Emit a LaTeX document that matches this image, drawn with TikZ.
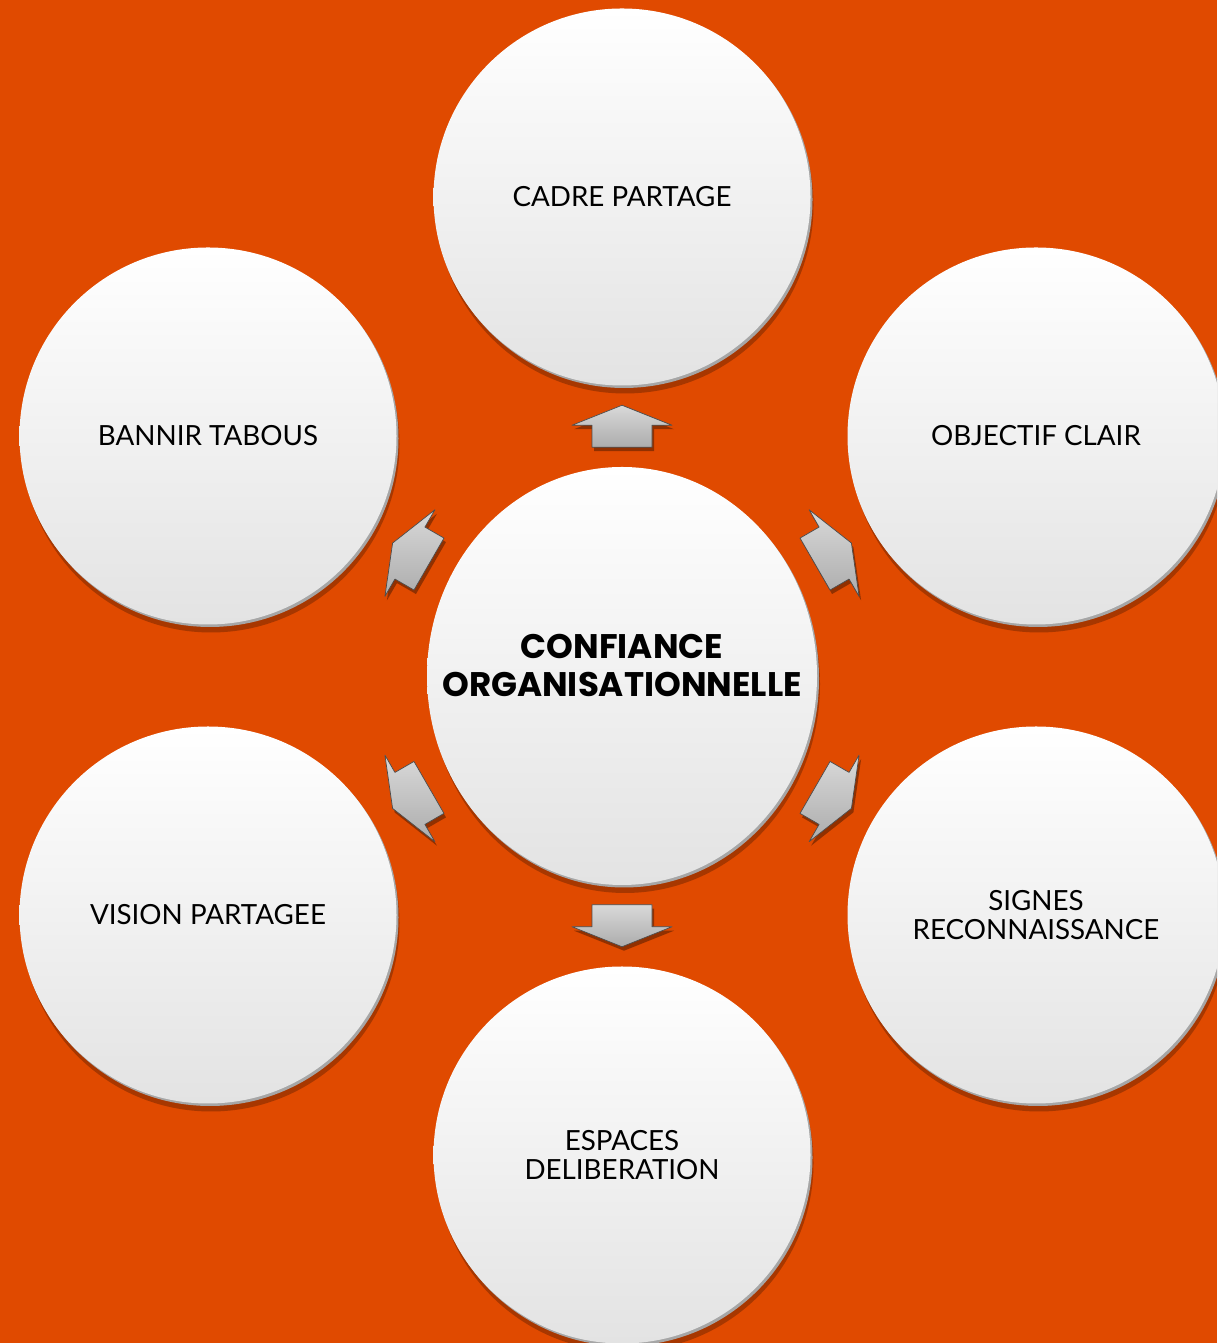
\documentclass[tikz,border=0pt]{standalone}
\usepackage{fontspec}
\setmainfont{Lato}
\newfontfamily\hubfont{Poppins}
\usetikzlibrary{shapes.geometric,shadows,calc}
\definecolor{bgorange}{RGB}{224,74,0}

\tikzset{
  bubble/.style={circle,minimum size=3.77cm,inner sep=0pt,align=center,
    top color=white,bottom color=gray!22,
    drop shadow={shadow xshift=0.03cm,shadow yshift=-0.08cm,opacity=0.25,fill=black},
    drop shadow={shadow xshift=0.02cm,shadow yshift=-0.025cm,opacity=1,fill=gray!70},
    font=\fontsize{7.9}{8.5}\selectfont},
  hub/.style={bubble,ellipse,minimum width=3.9cm,minimum height=4.18cm,
    font=\hubfont\bfseries\fontsize{9.7}{10.8}\selectfont},
  blockarrow/.style={top color=gray!30,bottom color=gray!65,draw=gray!60!black,
    line width=0.2pt,line join=round,
    drop shadow={shadow xshift=0.02cm,shadow yshift=-0.04cm,opacity=0.35,fill=black}}
}

\begin{document}
\begin{tikzpicture}
  \useasboundingbox (0,0) rectangle (12.17,13.43);
  \clip (0,0) rectangle (12.17,13.43);
  \fill[bgorange] (0,0) rectangle (12.17,13.43);

  \node[bubble] (cadre)    at (6.22,11.46) {CADRE PARTAGE};
  \node[bubble] (objectif) at (10.36,9.07) {OBJECTIF CLAIR};
  \node[bubble] (signes)   at (10.36,4.28) {SIGNES\\RECONNAISSANCE};
  \node[bubble] (espaces)  at (6.22,1.88)  {ESPACES\\DELIBERATION};
  \node[bubble] (vision)   at (2.08,4.28)  {VISION PARTAGEE};
  \node[bubble] (bannir)   at (2.08,9.07)  {BANNIR TABOUS};

  \node[hub] (conf) at (6.22,6.67)
    {\makebox[0pt]{CONFIANCE}\\\makebox[0pt]{ORGANISATIONNELLE}\rule[-0.22cm]{0pt}{0pt}};

  % arrows from the hub to each bubble
  \foreach \a/\sat [evaluate=\a as \b using {int(\a+180)}]
      in {90/cadre,30/objectif,-30/signes,-90/espaces,-150/vision,150/bannir}{
    \coordinate (arr\sat) at ($(conf.\a)!0.5!(\sat.\b)$);
    \begin{scope}[shift={(arr\sat)},rotate=\a]
      \draw[blockarrow] (-0.21,-0.30) -- (0.01,-0.30) -- (0.01,-0.50)
        -- (0.21,0) -- (0.01,0.50) -- (0.01,0.30) -- (-0.21,0.30) -- cycle;
    \end{scope}
  }
\end{tikzpicture}
\end{document}
